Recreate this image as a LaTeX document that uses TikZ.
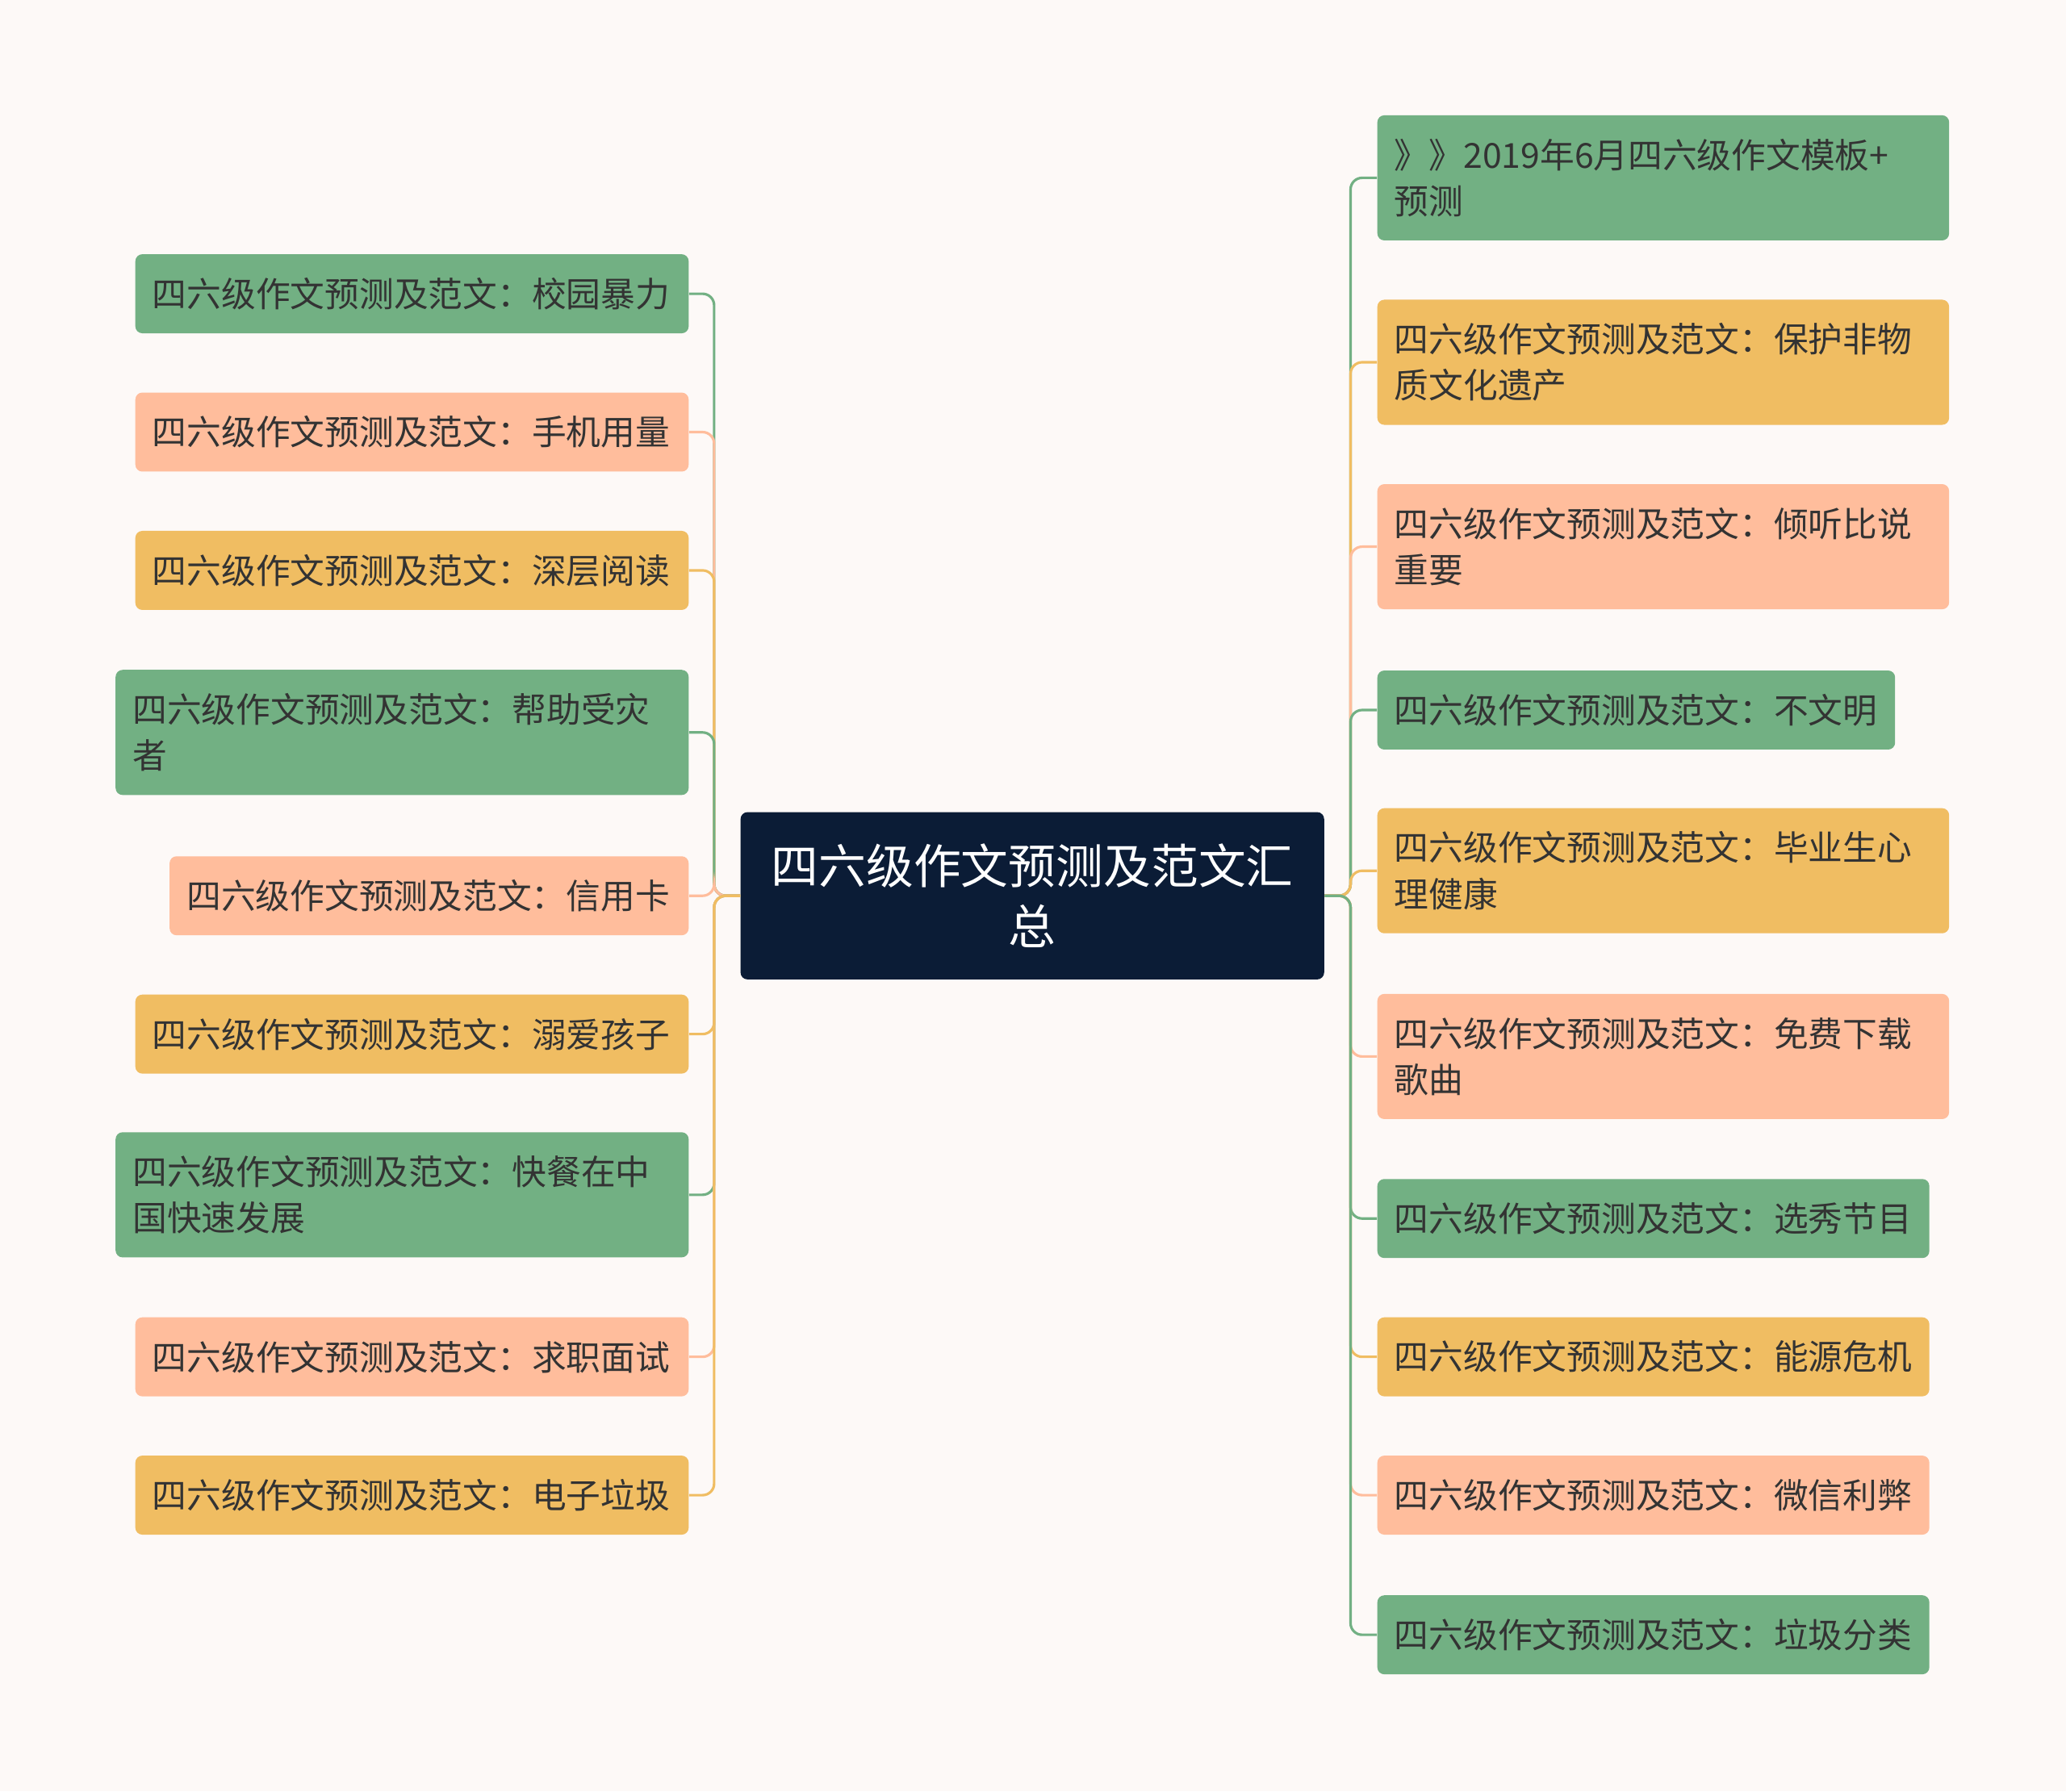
\documentclass[tikz,border=0pt]{standalone}
\usepackage{fontspec}
\setmainfont{Noto Sans CJK SC}
\definecolor{bgc}{HTML}{FDF9F7}
\definecolor{gn}{HTML}{72B083}
\definecolor{sm}{HTML}{FFBD9C}
\definecolor{yl}{HTML}{F0BD62}
\definecolor{navy}{HTML}{0B1C36}
\definecolor{txt}{HTML}{333333}
\tikzset{
  leaf/.style={rounded corners=3pt, text=txt, align=left, inner xsep=0.26cm,
    font=\fontsize{14.9pt}{20pt}\selectfont, minimum height=1.2cm},
  tall/.style={minimum height=1.9cm},
  lnk/.style={line width=1.1pt, rounded corners=5pt},
}
\begin{document}
\begin{tikzpicture}[x=0.02cm,y=-0.02cm]
\fill[bgc] (0,0) rectangle (1568,1360);

\node[fill=navy, text=white, rounded corners=3pt, align=center, minimum width=8.86cm, minimum height=2.54cm,
  text width=8cm, font=\fontsize{20.5pt}{26pt}\selectfont] at (783.5,680) (c) {四六级作文预测及范文汇\\总};

% left side
\node[leaf, fill=gn, anchor=east, text width=7.88cm] at (523,223) (l1) {四六级作文预测及范文：校园暴力};
\node[leaf, fill=sm, anchor=east, text width=7.88cm] at (523,328) (l2) {四六级作文预测及范文：手机用量};
\node[leaf, fill=yl, anchor=east, text width=7.88cm] at (523,433) (l3) {四六级作文预测及范文：深层阅读};
\node[leaf, tall, fill=gn, anchor=east, text width=8.18cm] at (523,556) (l4) {四六级作文预测及范文：帮助受灾\\者};
\node[leaf, fill=sm, anchor=east, text width=7.36cm] at (523,680) (l5) {四六级作文预测及范文：信用卡};
\node[leaf, fill=yl, anchor=east, text width=7.88cm] at (523,785) (l6) {四六级作文预测及范文：溺爱孩子};
\node[leaf, tall, fill=gn, anchor=east, text width=8.18cm] at (523,907) (l7) {四六级作文预测及范文：快餐在中\\国快速发展};
\node[leaf, fill=sm, anchor=east, text width=7.88cm] at (523,1030) (l8) {四六级作文预测及范文：求职面试};
\node[leaf, fill=yl, anchor=east, text width=7.88cm] at (523,1135) (l9) {四六级作文预测及范文：电子垃圾};

% right side
\node[leaf, tall, fill=gn, anchor=west, text width=8.16cm] at (1045,135) (r1) {》》2019年6月四六级作文模板+\\预测};
\node[leaf, tall, fill=yl, anchor=west, text width=8.16cm] at (1045,275) (r2) {四六级作文预测及范文：保护非物\\质文化遗产};
\node[leaf, tall, fill=sm, anchor=west, text width=8.16cm] at (1045,415) (r3) {四六级作文预测及范文：倾听比说\\重要};
\node[leaf, fill=gn, anchor=west, text width=7.34cm] at (1045,539) (r4) {四六级作文预测及范文：不文明};
\node[leaf, tall, fill=yl, anchor=west, text width=8.16cm] at (1045,661) (r5) {四六级作文预测及范文：毕业生心\\理健康};
\node[leaf, tall, fill=sm, anchor=west, text width=8.16cm] at (1045,802) (r6) {四六级作文预测及范文：免费下载\\歌曲};
\node[leaf, fill=gn, anchor=west, text width=7.86cm] at (1045,925) (r7) {四六级作文预测及范文：选秀节目};
\node[leaf, fill=yl, anchor=west, text width=7.86cm] at (1045,1030) (r8) {四六级作文预测及范文：能源危机};
\node[leaf, fill=sm, anchor=west, text width=7.86cm] at (1045,1135) (r9) {四六级作文预测及范文：微信利弊};
\node[leaf, fill=gn, anchor=west, text width=7.86cm] at (1045,1241) (r10) {四六级作文预测及范文：垃圾分类};

\coordinate (cl) at (542,680);
\coordinate (cr) at (1025,680);
\foreach \n/\col in {l1/gn,l2/sm,l3/yl,l4/gn,l5/sm,l6/yl,l7/gn,l8/sm,l9/yl}
  \draw[lnk, \col] (c.west) -- (cl) |- (\n.east);
\foreach \n/\col in {r1/gn,r2/yl,r3/sm,r4/gn,r5/yl,r6/sm,r7/gn,r8/yl,r9/sm,r10/gn}
  \draw[lnk, \col] (c.east) -- (cr) |- (\n.west);
\end{tikzpicture}
\end{document}
